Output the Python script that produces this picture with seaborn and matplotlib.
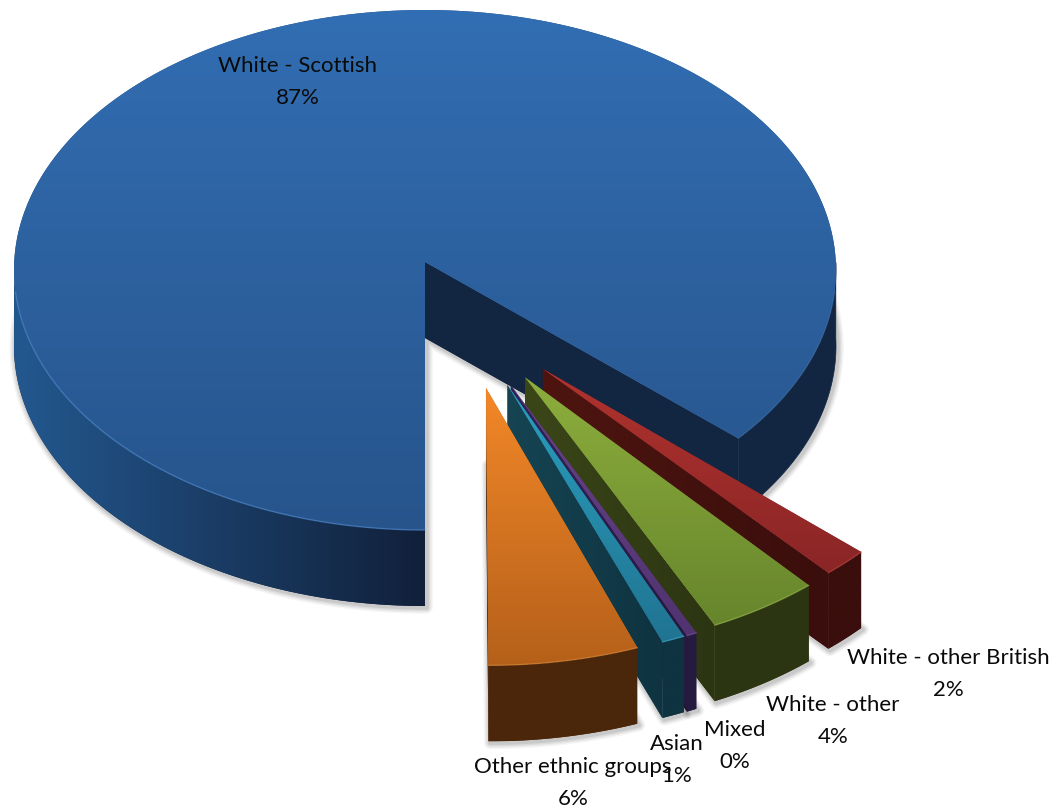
import numpy as np
import seaborn as sns
import matplotlib
matplotlib.use("Agg")
import matplotlib.pyplot as plt
from matplotlib.patches import Polygon

# ---- data -------------------------------------------------------------
groups = ["White - Scottish", "White - other British", "White - other",
          "Mixed", "Asian", "Other ethnic groups"]
shares = [86.6, 1.8, 4.4, 0.4, 0.9, 5.9]

# ---- layout and style (pixels of the 1053x808 canvas where noted) -----
W, H = 1053, 808
CX, CY, RX, RY = 425, 270, 411, 260
DEPTH_PX = 76
explode = [0, .524, .538, .544, .543, .543]
direction_shift = [0, -8, -4, -1, .5, 5.9]      # perspective of the explosion
arc_start_shift = [1.4, 0, 0, 0, 0, 0]          # perspective of the big slice's end
apex_shift_px = [(0, -8), (-12, -10), (-10, -14), (-6, -14), (-6, -14.5), (-2.5, -17.5)]
label_centres_px = [(298, 82), (948, 674), (833, 721), (735, 746), (677, 760), (573, 783)]
top_colours = [("#326EB3", "#27548B"), ("#B0332E", "#8A2526"), ("#8DAE3D", "#67852C"),
               ("#674389", "#513370"), ("#2A9FBE", "#207492"), ("#F38828", "#B5601A")]
wall_colours = [("#23588F", "#11203A"), ("#3A0E0C", "#3A0E0C"), ("#2C3512", "#2C3512"),
                ("#261A40", "#261A40"), ("#0F3340", "#0F3340"), ("#4C270A", "#4A260A")]
cut_colours = [("#122641", "#122641"), ("#4E1510", "#3A0E0C"), ("#3B4618", "#2C3512"),
               ("#33225A", "#261A40"), ("#164453", "#0F3340"), ("#4C270A", "#4C270A")]
rim_colour = ["#4A82C4", "#B8423C", "#98B84C", "#7A55A0", "#3FAECB", "#D98838"]
RIGHT_WALL = "#122641"

sns.set_theme(style="white")
plt.rcParams["font.family"] = ["Lato", "DejaVu Sans"]

fig = plt.figure(figsize=(W / 100, H / 100), dpi=100, facecolor="white")
ax = fig.add_axes([0, 0, 1, 1])

wedges, _ = ax.pie(shares, explode=explode, startangle=270, counterclock=False,
                   radius=1, normalize=True)
ax.set_aspect("auto")
ax.set_xlim(-CX / RX, (W - CX) / RX)
ax.set_ylim((CY - H) / RY, CY / RY)
ax.axis("off")

depth = DEPTH_PX / RY
z = 10


def outline(wedge, shift, start_shift, apex_px):
    """Arc points and apex of a pie wedge, with the exploded centre rotated by shift."""
    cx0, cy0 = wedge.center
    a = np.deg2rad(shift)
    cx = cx0 * np.cos(a) - cy0 * np.sin(a)
    cy = cx0 * np.sin(a) + cy0 * np.cos(a)
    t1 = wedge.theta1 + start_shift
    th = np.deg2rad(np.linspace(t1, wedge.theta2, max(int(wedge.theta2 - t1) * 2, 2) + 1))
    arc = np.column_stack([cx + wedge.r * np.cos(th), cy + wedge.r * np.sin(th)])
    apex = np.array([cx + apex_px[0] / RX, cy - apex_px[1] / RY])
    return th, arc, apex


def gradient_fill(poly_xy, colours, horizontal, zorder):
    """Polygon filled by a linear gradient between two colours."""
    base = Polygon(poly_xy, closed=True, facecolor=colours[1], edgecolor="none", zorder=zorder)
    ax.add_patch(base)
    ramp = np.linspace(0, 1, 256)
    ramp = ramp.reshape(1, -1) if horizontal else ramp.reshape(-1, 1)
    cmap = sns.blend_palette(list(colours), as_cmap=True)
    x0, x1 = poly_xy[:, 0].min(), poly_xy[:, 0].max()
    y0, y1 = poly_xy[:, 1].min(), poly_xy[:, 1].max()
    im = ax.imshow(ramp, extent=(x0, x1, y0, y1), origin="upper", aspect="auto", cmap=cmap,
                   vmin=0, vmax=1, zorder=zorder + .5, interpolation="bilinear")
    im.set_clip_path(base)


for i, wedge in enumerate(wedges):
    wedge.set_visible(False)
    th, arc, apex = outline(wedge, direction_shift[i], arc_start_shift[i], apex_shift_px[i])
    down = np.array([0, -depth])
    top_poly = np.vstack([apex, arc])

    # soft shadow round the foot of the slice
    for lw, al in [(9, .035), (7, .05), (5, .06), (3, .08)]:
        ax.add_patch(Polygon(top_poly + down + [0.004, -0.006], closed=True, fill=False,
                             edgecolor="black", alpha=al, lw=lw, zorder=z,
                             joinstyle="round"))
    z += 1

    # cut face at the clockwise end of the slice
    cut = np.array([apex, arc[0], arc[0] + down, apex + down])
    gradient_fill(cut, cut_colours[i], True, z)
    z += 1

    # outer wall, shaded left to right
    visible = np.sin(th) < 0.03
    if i == 0:
        left = arc[visible & (th > np.pi / 2)]
        right = arc[visible & (th < np.pi / 2)]
        gradient_fill(np.vstack([left, (left + down)[::-1]]), wall_colours[i], True, z)
        z += 1
        ax.add_patch(Polygon(np.vstack([right, (right + down)[::-1]]), closed=True,
                             facecolor=RIGHT_WALL, edgecolor=RIGHT_WALL, lw=.5, zorder=z))
    else:
        gradient_fill(np.vstack([arc, (arc + down)[::-1]]), wall_colours[i], True, z)
    z += 1

    # top surface with a vertical gradient
    gradient_fill(top_poly, top_colours[i], False, z)
    z += 1

    # thin lit rim along the front of the arc
    if i == 0:
        runs = [(arc[(th > np.pi) & (np.sin(th) < -0.08)], .7),
                (arc[(th < 0) & (np.sin(th) < -0.08)], .3)]
    else:
        runs = [(arc, .6)]
    for r, al in runs:
        ax.plot(r[:, 0], r[:, 1], color=rim_colour[i], lw=1, alpha=al, zorder=z)
    z += 1

# ---- labels -----------------------------------------------------------
total = sum(shares)
for name, value, (px, py) in zip(groups, shares, label_centres_px):
    ax.text((px - CX) / RX, (CY - py) / RY, f"{name}\n{100 * value / total:.0f}%",
            ha="center", va="center", fontsize=16, color="#0A0A0A",
            linespacing=1.72, zorder=z)
    z += 1

fig.savefig("out.png", dpi=100, facecolor="white")
